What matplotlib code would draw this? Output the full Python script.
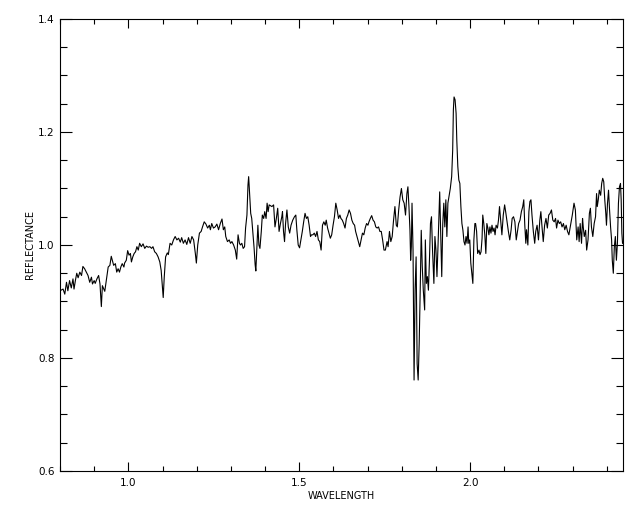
import matplotlib
matplotlib.use("Agg")
import matplotlib.pyplot as plt
from matplotlib.ticker import MultipleLocator, FormatStrFormatter
import numpy as np

# spectrum, in pieces
wl_a = [0.800,0.809,0.814,0.819,0.823,0.828,0.833,0.838,0.841,0.845,0.849,0.853,0.858,0.863,0.867,0.872,0.877,0.882,0.887,0.892,0.895,0.900,0.903,0.908,0.913,0.917,0.921,0.924,0.928,0.931,0.936,0.941,0.946,0.950,0.953,0.957,0.962,0.966,0.970,0.974,0.978,0.982,0.987,0.989,0.994,0.998,1.002,1.006,1.009,1.013,1.017,1.021,1.025,1.029,1.033,1.038,1.043,1.048,1.053,1.058,1.063,1.068,1.072,1.077,1.082,1.087,1.092,1.096,1.099,1.102,1.105,1.109,1.114]
rf_a = [0.919,0.922,0.913,0.934,0.919,0.937,0.924,0.940,0.922,0.937,0.950,0.942,0.952,0.946,0.962,0.958,0.952,0.946,0.934,0.943,0.931,0.937,0.932,0.940,0.946,0.931,0.891,0.928,0.922,0.918,0.940,0.961,0.964,0.980,0.973,0.964,0.967,0.952,0.958,0.952,0.961,0.967,0.961,0.968,0.973,0.990,0.982,0.985,0.970,0.979,0.985,0.988,0.997,0.991,1.003,0.997,1.002,0.994,0.998,0.996,0.997,0.994,0.997,0.988,0.985,0.979,0.970,0.955,0.931,0.907,0.943,0.979,0.986]

wl_b = [1.117,1.122,1.127,1.132,1.137,1.142,1.147,1.152,1.156,1.161,1.166,1.171,1.176,1.181,1.186,1.191,1.196,1.199,1.203,1.208,1.213,1.217,1.222,1.227,1.232,1.237,1.240,1.244,1.249,1.254,1.259,1.264,1.269,1.274,1.278,1.282,1.285,1.290,1.295,1.299,1.303,1.308,1.313,1.317,1.321,1.325,1.328,1.332,1.336,1.340,1.343,1.347,1.350,1.352,1.355,1.358,1.361,1.364,1.368,1.371,1.373,1.376,1.379,1.382,1.385,1.389,1.392,1.396,1.399,1.403,1.406,1.409,1.412]
rf_b = [0.983,1.003,1.000,1.009,1.015,1.009,1.012,1.005,1.013,1.003,1.009,1.001,1.013,1.003,1.015,1.009,0.985,0.968,1.000,1.021,1.024,1.032,1.041,1.037,1.030,1.035,1.027,1.038,1.030,1.032,1.037,1.027,1.038,1.046,1.027,1.032,1.015,1.006,1.009,1.003,1.006,1.000,0.991,0.975,1.018,1.003,1.000,1.003,0.994,0.997,1.030,1.053,1.106,1.121,1.088,1.056,1.047,1.024,0.994,0.965,0.954,0.994,1.035,1.000,0.994,1.024,1.053,1.047,1.059,1.047,1.074,1.059,1.071]

wl_c = [1.420,1.425,1.429,1.433,1.437,1.441,1.445,1.449,1.451,1.454,1.457,1.460,1.464,1.468,1.472,1.476,1.481,1.486,1.490,1.493,1.497,1.501,1.505,1.509,1.513,1.517,1.521,1.525,1.529,1.533,1.536,1.540,1.544,1.548,1.552,1.556,1.560,1.564,1.568,1.572,1.576,1.579,1.583,1.587,1.591,1.595,1.599,1.603,1.607,1.611,1.615,1.619,1.622,1.626,1.630,1.634,1.638,1.642,1.646,1.650,1.654,1.658,1.662,1.665,1.669,1.673,1.677,1.681,1.685,1.689,1.693,1.697,1.701,1.704,1.708,1.712,1.716,1.720,1.724,1.728,1.732,1.736,1.740,1.744,1.748]
rf_c = [1.068,1.071,1.032,1.047,1.065,1.024,1.038,1.050,1.059,1.024,1.006,1.038,1.062,1.032,1.021,1.035,1.044,1.050,1.053,1.027,1.000,0.995,1.009,1.024,1.041,1.056,1.047,1.050,1.035,1.015,1.018,1.018,1.021,1.015,1.024,1.009,1.006,0.991,1.035,1.041,1.035,1.044,1.030,1.021,1.012,1.018,1.035,1.050,1.074,1.062,1.047,1.053,1.047,1.044,1.038,1.030,1.047,1.053,1.062,1.056,1.044,1.038,1.035,1.024,1.015,1.006,0.997,1.009,1.021,1.018,1.030,1.038,1.035,1.041,1.047,1.052,1.044,1.041,1.032,1.030,1.032,1.024,1.024,1.009,0.991]

wl_d = [1.752,1.757,1.760,1.764,1.768,1.772,1.776,1.780,1.784,1.787,1.791,1.795,1.799,1.803,1.807,1.811,1.815,1.818,1.821,1.824,1.826,1.828,1.830,1.833,1.836,1.839,1.842,1.845,1.848,1.851,1.854,1.857,1.860,1.863,1.867,1.869,1.872,1.875,1.878,1.881,1.884,1.887,1.890,1.894,1.897,1.900,1.903,1.906,1.909,1.911,1.914,1.917,1.920,1.923,1.926,1.929,1.932,1.935,1.938,1.942,1.946,1.949,1.951,1.953,1.956,1.959,1.961,1.964,1.967,1.970,1.973,1.976,1.979,1.982,1.985,1.988,1.991,1.994,1.996,1.999,2.002,2.005,2.008,2.011,2.014]
rf_d = [0.991,1.006,0.997,1.024,1.006,1.015,1.044,1.068,1.035,1.032,1.062,1.085,1.100,1.080,1.074,1.053,1.091,1.103,1.068,1.026,0.973,0.997,1.074,0.991,0.761,0.920,0.979,0.790,0.761,0.826,0.920,1.026,0.962,0.920,0.885,1.009,0.932,0.944,0.920,0.973,1.038,1.050,0.991,0.932,1.015,0.991,0.944,0.997,1.056,1.094,1.015,0.944,1.038,1.074,1.032,1.080,1.015,1.074,1.085,1.100,1.121,1.168,1.239,1.262,1.257,1.233,1.186,1.139,1.115,1.109,1.068,1.038,1.026,1.006,1.000,1.015,1.003,1.032,1.003,1.009,0.968,0.950,0.932,1.009,1.038]

wl_e = [2.016,2.019,2.022,2.026,2.029,2.032,2.035,2.037,2.040,2.043,2.046,2.049,2.052,2.055,2.058,2.061,2.064,2.067,2.070,2.073,2.076,2.080,2.083,2.086,2.089,2.093,2.097,2.101,2.104,2.108,2.112,2.116,2.120,2.123,2.127,2.131,2.135,2.138,2.142,2.146,2.150,2.154,2.157,2.160,2.163,2.165,2.169,2.172,2.175,2.178,2.181,2.185,2.189,2.192,2.196,2.200,2.204,2.207,2.210,2.214,2.218,2.222,2.226,2.230,2.234,2.238,2.242,2.246,2.250,2.253,2.257,2.261,2.265,2.269,2.273,2.277,2.281,2.285,2.289]
rf_e = [1.038,1.024,0.985,0.991,0.983,0.988,1.012,1.053,1.038,1.018,0.985,1.038,1.030,1.018,1.032,1.021,1.035,1.024,1.030,1.018,1.035,1.030,1.044,1.068,1.047,1.018,1.053,1.071,1.059,1.041,1.024,1.009,1.027,1.047,1.050,1.041,1.009,1.021,1.038,1.044,1.059,1.068,1.080,1.035,1.003,1.027,1.000,1.059,1.077,1.080,1.053,1.024,1.003,1.024,1.035,1.009,1.044,1.059,1.035,1.006,1.035,1.047,1.030,1.053,1.056,1.062,1.044,1.041,1.047,1.030,1.044,1.038,1.041,1.032,1.038,1.027,1.035,1.024,1.018]

wl_f = [2.294,2.299,2.304,2.308,2.312,2.316,2.319,2.322,2.326,2.329,2.331,2.334,2.338,2.341,2.345,2.349,2.352,2.355,2.359,2.363,2.367,2.370,2.372,2.375,2.378,2.382,2.385,2.388,2.391,2.394,2.397,2.399,2.402,2.405,2.408,2.411,2.414,2.416,2.419,2.422,2.425,2.428,2.431,2.434,2.437,2.440,2.442,2.444,2.446]
rf_f = [1.035,1.053,1.074,1.062,1.009,1.032,1.006,1.038,1.003,1.047,1.032,1.015,1.026,0.991,1.009,1.056,1.065,1.032,1.015,1.038,1.050,1.091,1.068,1.080,1.097,1.088,1.109,1.118,1.112,1.080,1.056,1.035,1.074,1.097,1.062,1.032,1.009,0.973,0.950,0.997,1.015,0.973,1.003,1.074,1.103,1.109,1.080,1.021,1.003]

wavelength = np.array(wl_a + wl_b + wl_c + wl_d + wl_e + wl_f)
reflectance = np.array(rf_a + rf_b + rf_c + rf_d + rf_e + rf_f)

fig = plt.figure(figsize=(6.4, 5.12), dpi=100, facecolor='white')
ax = fig.add_axes([0.09375, 0.0801, 0.8795, 0.8828])

ax.plot(wavelength, reflectance, color='black', linewidth=0.8)

ax.set_xlim(wavelength[0], 2.447)
ax.set_ylim(0.6, 1.4)

ax.xaxis.set_major_locator(MultipleLocator(0.5))
ax.xaxis.set_minor_locator(MultipleLocator(0.1))
ax.yaxis.set_major_locator(MultipleLocator(0.2))
ax.yaxis.set_minor_locator(MultipleLocator(0.05))
ax.xaxis.set_major_formatter(FormatStrFormatter('%.1f'))
ax.yaxis.set_major_formatter(FormatStrFormatter('%.1f'))

ax.tick_params(which='both', direction='in', top=True, right=True,
               width=0.8, colors='black', labelsize=7.5)
ax.tick_params(axis='x', which='major', length=6.7, pad=5)
ax.tick_params(axis='x', which='minor', length=3.4)
ax.tick_params(axis='y', which='major', length=8.6, pad=4)
ax.tick_params(axis='y', which='minor', length=5)

for s in ax.spines.values():
    s.set_linewidth(0.8)

ax.set_xlabel('WAVELENGTH', fontsize=7, va='center')
ax.xaxis.set_label_coords(0.5, -0.055)
ax.set_ylabel('REFLECTANCE', fontsize=7, va='center')
ax.yaxis.set_label_coords(-0.0533, 0.5)

plt.savefig('out.png', dpi=100, facecolor='white')
